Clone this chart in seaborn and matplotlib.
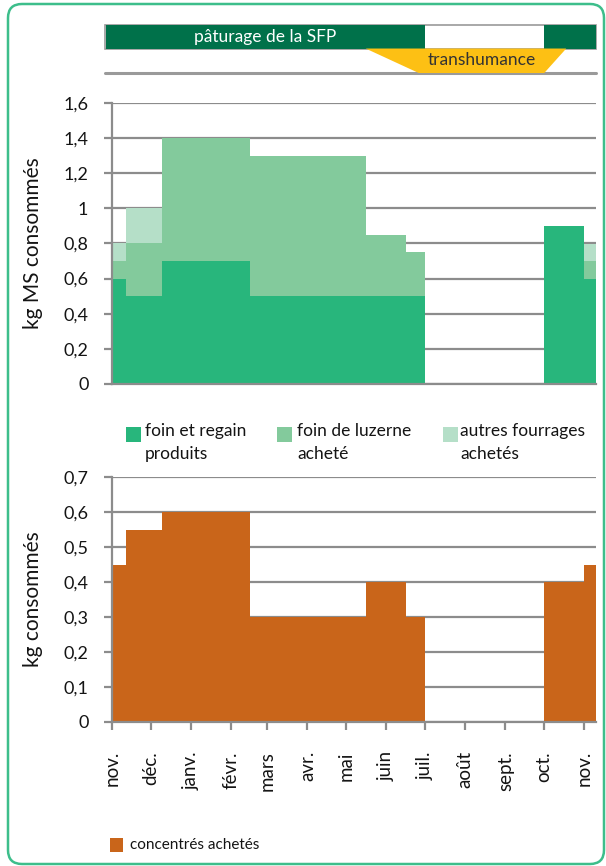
import matplotlib
matplotlib.use('Agg')
import matplotlib.pyplot as plt
from matplotlib.patches import FancyBboxPatch, Rectangle
from matplotlib.ticker import FuncFormatter
import numpy as np
import pandas as pd
import seaborn as sns

# feeding periods (start dates), the last one runs to axis_end
period_starts = ['2012-11-01', '2012-11-12', '2012-12-10', '2013-02-16',
                 '2013-05-16', '2013-06-16', '2013-07-01', '2013-10-01',
                 '2013-11-01']
axis_end = '2013-11-10'

# kg MS consommés
foin_regain = [0.6, 0.5, 0.7, 0.5, 0.5, 0.5, 0, 0.9, 0.6]
foin_luzerne = [0.1, 0.3, 0.7, 0.8, 0.35, 0.25, 0, 0, 0.1]
autres_fourrages = [0.1, 0.2, 0, 0, 0, 0, 0, 0, 0.1]
# kg consommés
concentres = [0.45, 0.55, 0.6, 0.3, 0.4, 0.3, 0, 0.4, 0.45]

fourrage_labels = ['foin et regain\nproduits', 'foin de luzerne\nacheté',
                   'autres fourrages\nachetés']
concentre_label = 'concentrés achetés'

month_labels = ['nov.', 'déc.', 'janv.', 'févr.', 'mars', 'avr.', 'mai',
                'juin', 'juil.', 'août', 'sept.', 'oct.', 'nov.']

# calendar band on top
paturage_periods = [('2012-10-27', '2013-07-01'), ('2013-10-01', axis_end)]
transhumance_top = ('2013-05-16', '2013-10-18')
transhumance_bottom = ('2013-06-26', '2013-10-01')

# colours
c_fourrages = ['#28b67c', '#83ca9c', '#b5dfc8']
c_concentre = '#c9651a'
c_band = '#00714a'
c_trans = '#fdc014'
c_grid = '#8c8c8c'
c_frame = '#3dbe8b'

origin = pd.Timestamp('2012-11-01')


def to_day(d):
    return (pd.Timestamp(d) - origin).days


edges = [to_day(d) for d in period_starts] + [to_day(axis_end)]
mids = [(a + b) / 2 for a, b in zip(edges[:-1], edges[1:])]
month_days = [to_day(d) for d in pd.date_range('2012-11-01', '2013-11-01', freq='MS')]

df_f = pd.DataFrame({
    'day': mids * 3,
    'kg': foin_regain + foin_luzerne + autres_fourrages,
    'type': np.repeat(fourrage_labels, len(mids)),
})
df_c = pd.DataFrame({'day': mids, 'kg': concentres})

sns.set_theme(style='white')
plt.rcParams['font.family'] = ['Lato', 'DejaVu Sans']
plt.rcParams['text.color'] = '#141414'

W, H = 606, 866
fig = plt.figure(figsize=(W / 100, H / 100), dpi=100)


def px_axes(left, top, right, bottom):
    return fig.add_axes([left / W, 1 - bottom / H, (right - left) / W, (bottom - top) / H])


ax_band = px_axes(105, 25, 596, 73)
ax1 = px_axes(112, 103, 596, 384)
ax2 = px_axes(112, 477, 596, 722)

xmax = edges[-1]
px_per_day = (596 - 112) / xmax

# top band
band_xmin = -(112 - 105) / px_per_day
ax_band.set_xlim(band_xmin, xmax)
ax_band.set_ylim(0, 1)
ax_band.axis('off')
ax_band.add_patch(Rectangle((band_xmin, 0.51), xmax - band_xmin, 0.49, fill=False,
                            ec='#9a9a9a', lw=1.2, clip_on=False))
for s, e in paturage_periods:
    ax_band.axvspan(max(to_day(s), band_xmin), to_day(e), ymin=0.51, ymax=1, color=c_band, lw=0)
ax_band.axhline(0, color='#9a9a9a', lw=2.2, clip_on=False, zorder=1)
tl, tr = [to_day(d) for d in transhumance_top]
bl, br = [to_day(d) for d in transhumance_bottom]
ax_band.fill([tl, tr, br, bl], [0.51, 0.51, 0, 0], color=c_trans, lw=0, zorder=2)
p0, p1 = max(to_day(paturage_periods[0][0]), band_xmin), to_day(paturage_periods[0][1])
ax_band.text((p0 + p1) / 2, 0.76, 'pâturage de la SFP', color='white', fontsize=12.5,
             ha='center', va='center')
ax_band.text((bl + br) / 2, 0.28, 'transhumance', color='#333333', fontsize=12.5,
             ha='center', va='center', zorder=3)

# fourrages (seaborn stacks the last hue level at the bottom)
sns.histplot(data=df_f, x='day', weights='kg', hue='type', hue_order=fourrage_labels[::-1],
             bins=edges, multiple='stack', element='bars', stat='count',
             palette=dict(zip(fourrage_labels, c_fourrages)), linewidth=0, alpha=1,
             legend=False, antialiased=False, ax=ax1)
ax1.set_ylim(0, 1.6)
ax1.set_yticks(np.arange(0, 1.61, 0.2))

# concentrés
sns.histplot(data=df_c, x='day', weights='kg', bins=edges, element='bars', stat='count',
             color=c_concentre, linewidth=0, alpha=1, antialiased=False, ax=ax2)
ax2.set_ylim(0, 0.7)
ax2.set_yticks(np.arange(0, 0.71, 0.1))

fmt = FuncFormatter(lambda v, p: f'{v:g}'.replace('.', ','))
for ax in (ax1, ax2):
    ax.set_xlim(0, xmax)
    ax.yaxis.set_major_formatter(fmt)
    ax.grid(axis='y', color=c_grid, lw=1.6)
    ax.set_axisbelow(True)
    for side in ('top', 'right'):
        ax.spines[side].set_visible(False)
    for side in ('left', 'bottom'):
        ax.spines[side].set_color(c_grid)
        ax.spines[side].set_linewidth(1.6)
    ax.tick_params(axis='y', left=True, length=6, width=1.6, color=c_grid,
                   pad=11, labelsize=13, labelcolor='#141414')
    ax.set_xlabel('')

ax1.set_xticks([])
ax1.set_ylabel('kg MS consommés', fontsize=15, color='#141414')
ax1.yaxis.set_label_coords(-0.143, 0.5)

ax2.set_xticks(month_days)
ax2.set_xticklabels(month_labels, rotation=90)
ax2.tick_params(axis='x', bottom=True, length=6, width=1.6, color=c_grid,
                pad=15, labelsize=13.5, labelcolor='#141414')
ax2.set_ylabel('kg consommés', fontsize=15, color='#141414')
ax2.yaxis.set_label_coords(-0.143, 0.5)


# legends
def fig_square(x, y, w, h, color):
    fig.add_artist(Rectangle((x / W, 1 - (y + h) / H), w / W, h / H,
                             transform=fig.transFigure, color=color, lw=0))


for x_sq, x_txt, label, color in zip([126, 277, 443], [145, 297, 460],
                                     fourrage_labels, c_fourrages):
    fig_square(x_sq, 427, 15, 15, color)
    fig.text(x_txt / W, 1 - 423 / H, label, fontsize=12.5, va='top', ha='left',
             linespacing=1.55)

fig_square(110, 838, 13, 14, c_concentre)
fig.text(130 / W, 1 - 845 / H, concentre_label, fontsize=11, va='center', ha='left')

# outer frame
fig.add_artist(FancyBboxPatch((8, 2), 596, 860, boxstyle='round,pad=0,rounding_size=14',
                              transform=None, fill=False, ec=c_frame, lw=1.8))

fig.savefig('out.png', dpi=100)
